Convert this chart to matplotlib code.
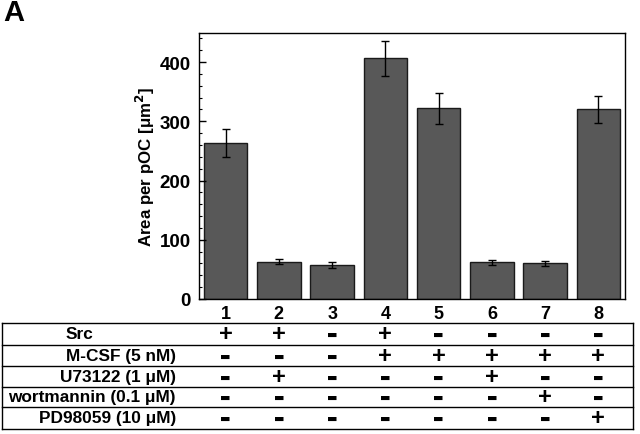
import numpy as np
import matplotlib
matplotlib.use('Agg')
import matplotlib.pyplot as plt
import matplotlib.transforms as mtransforms
from matplotlib.lines import Line2D
from matplotlib.ticker import MultipleLocator

plt.rcParams['font.family'] = ['Liberation Sans', 'DejaVu Sans']
plt.rcParams['font.weight'] = 'bold'

# Daten
lanes = ['1', '2', '3', '4', '5', '6', '7', '8']
area = [263, 63, 58, 406, 322, 62, 60, 320]
err = [24, 4, 5, 30, 26, 4, 4, 23]

row_labels = ['Src', 'M-CSF (5 nM)', 'U73122 (1 μM)', 'wortmannin (0.1 μM)', 'PD98059 (10 μM)']
signs = [
    ['+', '+', '-', '+', '-', '-', '-', '-'],
    ['-', '-', '-', '+', '+', '+', '+', '+'],
    ['-', '+', '-', '-', '-', '+', '-', '-'],
    ['-', '-', '-', '-', '-', '-', '+', '-'],
    ['-', '-', '-', '-', '-', '-', '-', '+'],
]

W, H = 640, 435
fig = plt.figure(figsize=(6.4, 4.35), dpi=100)
ax = fig.add_axes([199 / W, 1 - 300 / H, 426 / W, 266 / H])

x = np.arange(1, len(lanes) + 1)
ax.bar(x, area, width=0.82, color='#585858', edgecolor='#1a1a1a', linewidth=1.0)
ax.errorbar(x, area, yerr=err, fmt='none', ecolor='black', elinewidth=1.0, capsize=3, capthick=1.0)

ax.set_xlim(0.5, 8.5)
ax.set_ylim(0, 449)
ax.set_xticks(x)
ax.set_xticklabels(lanes, fontsize=13, fontweight='bold')
ax.tick_params(axis='x', length=0, pad=4)
ax.yaxis.set_major_locator(MultipleLocator(100))
ax.yaxis.set_minor_locator(MultipleLocator(20))
ax.tick_params(axis='y', which='major', direction='in', length=5, width=1, labelsize=13.5, pad=6)
ax.tick_params(axis='y', which='minor', direction='in', length=2.5, width=0.8)
for lab in ax.get_yticklabels():
    lab.set_fontweight('bold')
for s in ax.spines.values():
    s.set_linewidth(1.0)
ax.set_ylabel('Area per pOC [μm$^2$]', fontsize=12.2, fontweight='bold', labelpad=2)

# Tabelle unter dem Plot
trans = mtransforms.blended_transform_factory(ax.transData, fig.transFigure)
row_lines = [324, 346, 367, 388, 408, 430]
for yl in row_lines:
    fig.add_artist(Line2D([2 / W, 633 / W], [1 - yl / H, 1 - yl / H], color='black', lw=1.0))
fig.add_artist(Line2D([2 / W, 2 / W], [1 - 324 / H, 1 - 430 / H], color='black', lw=1.0))
fig.add_artist(Line2D([633 / W, 633 / W], [1 - 324 / H, 1 - 430 / H], color='black', lw=1.0))

for i, lab in enumerate(row_labels):
    yc = 1 - (row_lines[i] + row_lines[i + 1]) / 2 / H
    if i == 0:
        fig.text(79 / W, yc, lab, ha='center', va='center', fontsize=12.4, fontweight='bold')
    else:
        fig.text(176 / W, yc, lab, ha='right', va='center', fontsize=12.4, fontweight='bold')
    for j, s in enumerate(signs[i]):
        if s == '+':
            ax.text(x[j], yc, '+', transform=trans, ha='center', va='center',
                    fontsize=17, fontweight='bold')
        else:
            ax.text(x[j], yc, '▬', transform=trans, ha='center', va='center',
                    fontsize=8, family='DejaVu Sans')

fig.text(3 / W, 1 - 13 / H, 'A', ha='left', va='center', fontsize=21, fontweight='bold')

plt.savefig('out.png', dpi=100)
